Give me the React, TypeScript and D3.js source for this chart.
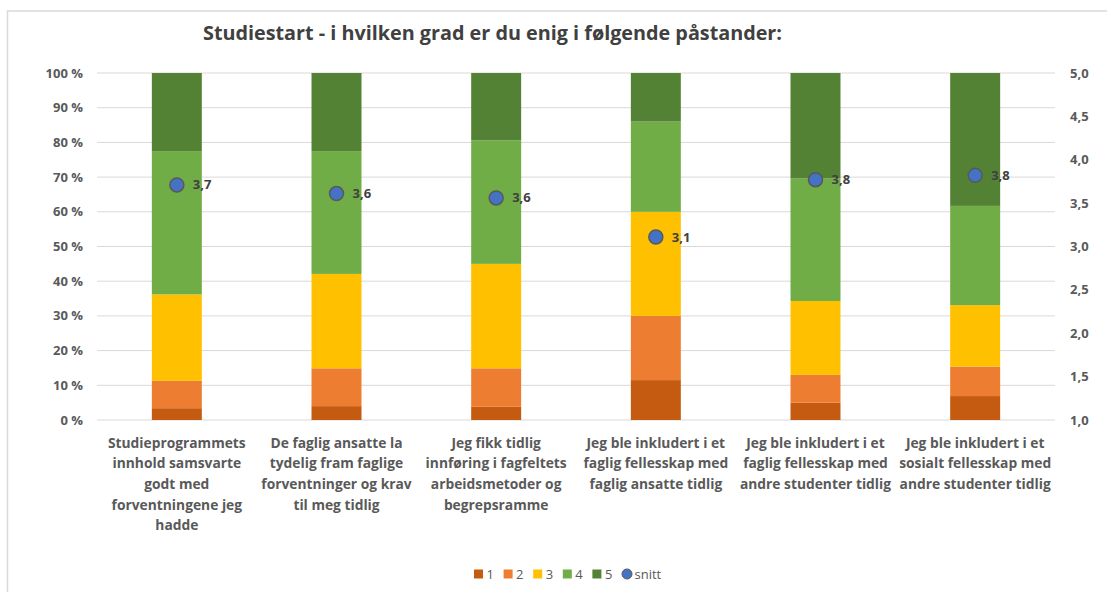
import * as d3 from "d3";

const width = 1107;
const height = 592;

const title = "Studiestart - i hvilken grad er du enig i følgende påstander:";

const categories = [
  ["Studieprogrammets", "innhold samsvarte", "godt med", "forventningene jeg", "hadde"],
  ["De faglig ansatte la", "tydelig fram faglige", "forventninger og krav", "til meg tidlig"],
  ["Jeg fikk tidlig", "innføring i fagfeltets", "arbeidsmetoder og", "begrepsramme"],
  ["Jeg ble inkludert i et", "faglig fellesskap med", "faglig ansatte tidlig"],
  ["Jeg ble inkludert i et", "faglig fellesskap med", "andre studenter tidlig"],
  ["Jeg ble inkludert i et", "sosialt fellesskap med", "andre studenter tidlig"],
];

const levels = ["1", "2", "3", "4", "5"];
// share of answers (%) per level, one value per statement
const level1 = [3.4, 4.0, 3.8, 11.5, 5.0, 6.9];
const level2 = [7.9, 10.9, 11.1, 18.5, 8.0, 8.5];
const level3 = [24.9, 27.2, 30.1, 30.0, 21.3, 17.7];
const level4 = [41.3, 35.4, 35.6, 26.0, 35.3, 28.6];
const level5 = [22.5, 22.5, 19.4, 14.0, 30.4, 38.3];
// mean score (right axis)
const snitt = [3.71, 3.61, 3.56, 3.11, 3.77, 3.82];

const pctTicks = [0, 10, 20, 30, 40, 50, 60, 70, 80, 90, 100];
const meanTicks = [1.0, 1.5, 2.0, 2.5, 3.0, 3.5, 4.0, 4.5, 5.0];

const colors = ["#c55a11", "#ed7d31", "#ffc000", "#70ad47", "#548235"];
const dotColor = "#4472c4";

const font = "'Open Sans', sans-serif";

const margin = { left: 97, right: 52, top: 73, bottom: 172 };
const plotRight = width - margin.right;
const plotBottom = height - margin.bottom;

const fmt = (v: number) => v.toFixed(1).replace(".", ",");

export default function App() {
  const idx = categories.map((_, i) => i);
  const table = idx.map((i) => ({
    i,
    "1": level1[i],
    "2": level2[i],
    "3": level3[i],
    "4": level4[i],
    "5": level5[i],
  }));
  const series = d3.stack<any>().keys(levels).offset(d3.stackOffsetExpand)(table);

  const x = d3
    .scaleBand<number>()
    .domain(idx)
    .range([margin.left, plotRight])
    .paddingInner(0.687)
    .paddingOuter(0.3435);
  const y = d3.scaleLinear().domain([0, 1]).range([plotBottom, margin.top]);
  const y2 = d3.scaleLinear().domain([1, 5]).range([plotBottom, margin.top]);

  const legendItems = [...levels, "snitt"];
  const legendX = d3.scalePoint<string>().domain(legendItems).range([474, 622]);

  return (
    <svg
      width={width}
      height={height}
      style={{ position: "absolute", left: 0, top: 0, background: "#fff" }}
      fontFamily={font}
    >
      <rect x={7.5} y={11} width={width + 10} height={height + 10} fill="#fff" stroke="#d9d9d9" strokeWidth={1.5} />

      <text
        x={203}
        y={40}
        fontSize={20}
        fontWeight="bold"
        fill="#404040"
        textLength={579}
        lengthAdjust="spacingAndGlyphs"
      >
        {title}
      </text>

      {/* grid lines */}
      {pctTicks.map((t) => (
        <line key={t} x1={margin.left} x2={plotRight} y1={y(t / 100)} y2={y(t / 100)} stroke="#d9d9d9" strokeWidth={1} />
      ))}

      {/* left axis */}
      {pctTicks.map((t) => (
        <text key={t} x={83} y={y(t / 100)} dy="0.35em" textAnchor="end" fontSize={13} fontWeight="bold" fill="#595959">
          {`${t} %`}
        </text>
      ))}

      {/* right axis */}
      {meanTicks.map((t) => (
        <text key={t} x={1070} y={y2(t)} dy="0.35em" textAnchor="start" fontSize={13} fontWeight="bold" fill="#595959">
          {fmt(t)}
        </text>
      ))}

      {/* stacked bars */}
      {series.map((s, si) => (
        <g key={s.key} fill={colors[si]}>
          {s.map((d: any, j: number) => (
            <rect
              key={j}
              x={x(j)}
              y={y(d[1])}
              width={x.bandwidth()}
              height={y(d[0]) - y(d[1])}
            />
          ))}
        </g>
      ))}

      {/* mean markers */}
      {snitt.map((v, i) => {
        const cx = (x(i) as number) + x.bandwidth() / 2;
        return (
          <g key={i}>
            <circle cx={cx} cy={y2(v)} r={7} fill={dotColor} stroke="#595959" strokeWidth={1.5} />
            <text x={cx + 16} y={y2(v)} dy="0.35em" fontSize={13} fontWeight="bold" fill="#404040">
              {fmt(v)}
            </text>
          </g>
        );
      })}

      {/* category labels */}
      {categories.map((lines, i) => {
        const cx = (x(i) as number) + x.bandwidth() / 2;
        return (
          <text key={i} x={cx} y={443} textAnchor="middle" fontSize={13.8} fontWeight="bold" fill="#595959">
            {lines.map((l, k) => (
              <tspan key={k} x={cx} y={443 + k * 20.6} dy="0.35em">
                {l}
              </tspan>
            ))}
          </text>
        );
      })}

      {/* legend */}
      {legendItems.map((k, i) => {
        const lx = legendX(k) as number;
        return (
          <g key={k}>
            {i < levels.length ? (
              <rect x={lx} y={569.5} width={9} height={9} fill={colors[i]} />
            ) : (
              <circle cx={lx + 5} cy={574} r={5} fill={dotColor} stroke="#595959" strokeWidth={1} />
            )}
            <text x={lx + 12.5} y={574} dy="0.35em" fontSize={13} fill="#595959">
              {k}
            </text>
          </g>
        );
      })}
    </svg>
  );
}
